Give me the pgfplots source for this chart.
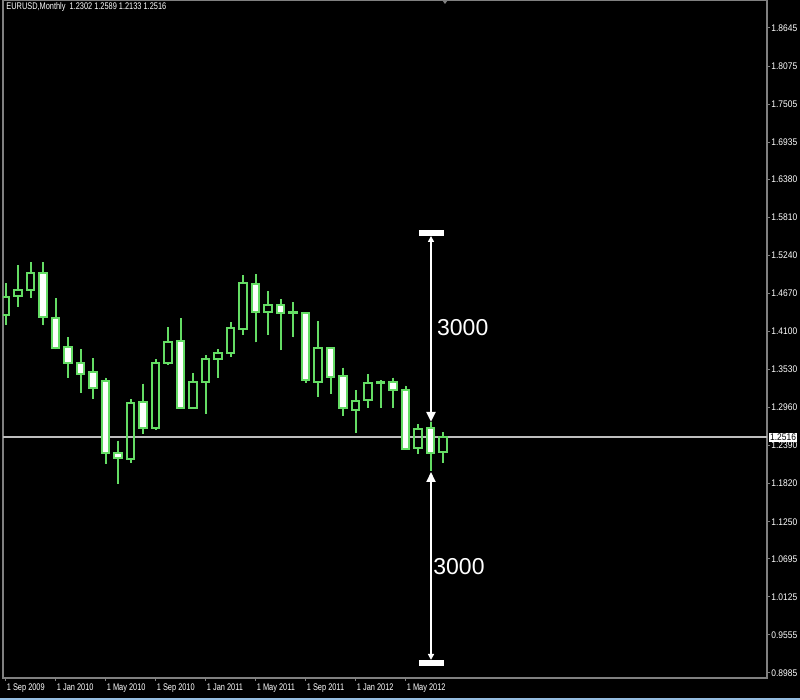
\documentclass[border=0pt]{standalone}
\usepackage{fontspec}
\setmainfont{Liberation Sans}
\newfontfamily\mt[FakeStretch=0.88]{Liberation Sans}
\newfontfamily\mtn[FakeStretch=0.77]{Liberation Sans}
\usepackage{pgfplots}
\pgfplotsset{compat=1.18}
\usepgfplotslibrary{statistics}
\usetikzlibrary{arrows.meta}

\definecolor{cgreen}{RGB}{100,220,100}
\definecolor{framegray}{RGB}{128,128,128}
\definecolor{pline}{RGB}{190,190,190}

% one monthly candle: index, open, high, low, close
\newcommand\candle[5]{%
  \ifdim #2pt<#5pt
    \def\cfill{none}\def\clo{#2}\def\chigh{#5}%
  \else
    \def\cfill{white}\def\clo{#5}\def\chigh{#2}%
  \fi
  \edef\candlecmd{\noexpand\addplot[draw=cgreen, fill=\cfill, line width=1pt, solid,
    boxplot prepared={draw direction=y, draw position=#1, lower whisker=#4, lower quartile=\clo,
      median=\clo, upper quartile=\chigh, upper whisker=#3,
      box extend=0.6, whisker extend=0}] coordinates {};}%
  \candlecmd}

\begin{document}
\begin{tikzpicture}
\useasboundingbox (0,0) rectangle (400pt,350pt);
\fill[black] (0,0) rectangle (400pt,350pt);
\fill[color={rgb,255:red,150;green,190;blue,225}] (0,0) rectangle (400pt,1.2pt);
\fill[framegray] (221pt,350pt) -- (224pt,350pt) -- (222.5pt,348pt) -- cycle;

\begin{axis}[
    at={(1.5pt,11pt)}, anchor=south west,
    scale only axis, width=382pt, height=339pt,
    xmin=-0.2, xmax=60.92,
    ymin=0.891, ymax=1.9064,
    axis line style={draw=framegray, line width=0.6pt},
    clip mode=individual,
    xtick={0,4,...,32},
    xticklabels={1 Sep 2009,1 Jan 2010,1 May 2010,1 Sep 2010,1 Jan 2011,1 May 2011,1 Sep 2011,1 Jan 2012,1 May 2012},
    ytick={1.8645,1.8075,1.7505,1.6935,1.6380,1.5810,1.5240,1.4670,1.4100,1.3530,1.2960,1.2390,1.1820,1.1250,1.0695,1.0125,0.9555,0.8985},
    yticklabels={1.8645,1.8075,1.7505,1.6935,1.6380,1.5810,1.5240,1.4670,1.4100,1.3530,1.2960,1.2390,1.1820,1.1250,1.0695,1.0125,0.9555,0.8985},
    xtick pos=bottom, ytick pos=right, yticklabel pos=right,
    tick align=outside, major tick length=1.5pt,
    tick style={draw=framegray, line width=0.5pt},
    ticklabel style={font=\mt\fontsize{4.8}{5}\selectfont, text=white, inner sep=0.5pt},
    x tick label style={anchor=north west, yshift=-0.5pt, font=\mtn\fontsize{4.8}{5}\selectfont},
    y tick label style={anchor=west},
]

% current price line
\addplot[color=pline, line width=1pt] coordinates {(-1,1.2516) (62,1.2516)};

\candle{0}{1.434}{1.482}{1.419}{1.461}
\candle{1}{1.4625}{1.509}{1.446}{1.4715}
\candle{2}{1.4715}{1.5135}{1.4595}{1.498}
\candle{3}{1.498}{1.5135}{1.419}{1.431}
\candle{4}{1.4295}{1.4595}{1.3835}{1.3845}
\candle{5}{1.386}{1.401}{1.341}{1.362}
\candle{6}{1.362}{1.384}{1.3185}{1.347}
\candle{7}{1.350}{1.3695}{1.3095}{1.326}
\candle{8}{1.336}{1.341}{1.212}{1.2285}
\candle{9}{1.2285}{1.2465}{1.182}{1.221}
\candle{10}{1.2195}{1.3095}{1.213}{1.3035}
\candle{11}{1.305}{1.332}{1.257}{1.266}
\candle{12}{1.266}{1.368}{1.263}{1.362}
\candle{13}{1.362}{1.416}{1.359}{1.3935}
\candle{14}{1.395}{1.43}{1.294}{1.296}
\candle{15}{1.296}{1.3485}{1.295}{1.335}
\candle{16}{1.3345}{1.374}{1.287}{1.368}
\candle{17}{1.368}{1.384}{1.341}{1.378}
\candle{18}{1.378}{1.4235}{1.371}{1.4145}
\candle{19}{1.413}{1.494}{1.404}{1.482}
\candle{20}{1.4805}{1.4955}{1.3935}{1.4385}
\candle{21}{1.4385}{1.47}{1.404}{1.449}
\candle{22}{1.449}{1.458}{1.382}{1.438}
\candle{23}{1.4385}{1.4535}{1.401}{1.4375}
\candle{24}{1.437}{1.4385}{1.3335}{1.338}
\candle{25}{1.3345}{1.425}{1.3125}{1.3845}
\candle{26}{1.385}{1.386}{1.317}{1.3425}
\candle{27}{1.343}{1.356}{1.284}{1.296}
\candle{28}{1.293}{1.323}{1.2585}{1.306}
\candle{29}{1.308}{1.347}{1.296}{1.3325}
\candle{30}{1.3325}{1.338}{1.296}{1.334}
\candle{31}{1.335}{1.341}{1.296}{1.323}
\candle{32}{1.323}{1.329}{1.233}{1.2345}
\candle{33}{1.2355}{1.272}{1.227}{1.2645}
\candle{34}{1.266}{1.275}{1.2015}{1.2285}
\candle{35}{1.2302}{1.2589}{1.2133}{1.2516}

% distance markers
\draw[white, line width=3pt] (axis cs:33.08,1.5575) -- (axis cs:35.08,1.5575);
\draw[white, line width=1pt, {Triangle[width=3pt,length=3pt]}-{Triangle[width=4.5pt,length=5pt]}]
  (axis cs:34.04,1.553) -- (axis cs:34.04,1.2745);
\node[anchor=west, text=white, inner sep=0pt, font=\fontsize{11.5}{12}\selectfont] at (axis cs:34.5,1.4152) {3000};

\draw[white, line width=3pt] (axis cs:33.08,0.913) -- (axis cs:35.08,0.913);
\draw[white, line width=1pt, {Triangle[width=4.5pt,length=5pt]}-{Triangle[width=3pt,length=3pt]}]
  (axis cs:34.04,1.1995) -- (axis cs:34.04,0.918);
\node[anchor=west, text=white, inner sep=0pt, font=\fontsize{11.5}{12}\selectfont] at (axis cs:34.2,1.0572) {3000};

\node[anchor=west, fill=white, text=black, inner sep=0.6pt, xshift=0.8pt,
  font=\mt\fontsize{4.8}{5}\selectfont] at (axis cs:60.92,1.2516) {1.2516};
\end{axis}

\node[anchor=west, text=white, inner sep=0pt, font=\mtn\fontsize{4.8}{5}\selectfont]
  at (3pt,346.3pt) {EURUSD,Monthly\ \ 1.2302 1.2589 1.2133 1.2516};
\end{tikzpicture}
\end{document}
